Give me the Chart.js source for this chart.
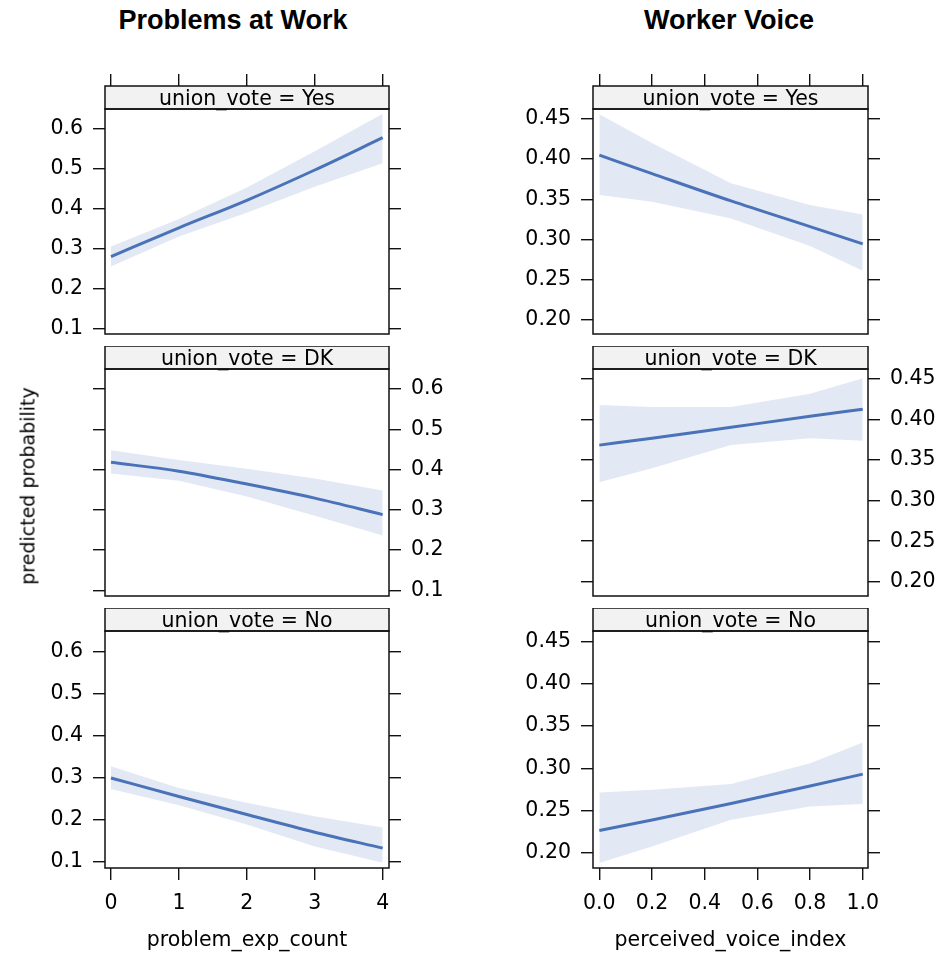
<!DOCTYPE html>
<html>
<head>
<meta charset="utf-8">
<script src="https://cdn.jsdelivr.net/npm/chart.js@4/dist/chart.umd.min.js"></script>
<style>
html,body{margin:0;padding:0;background:#fff;}
body{width:937px;height:956px;overflow:hidden;position:relative;font-family:'DejaVu Sans',sans-serif;}
canvas{position:absolute;}
.t{position:absolute;white-space:nowrap;color:#000;}
.title{font-family:'Liberation Sans',Arial,sans-serif;font-weight:bold;font-size:27px;line-height:27px;transform:translateX(-50%);top:7px;}
.xlab{font-family:'DejaVu Sans',sans-serif;font-size:20.5px;line-height:20px;transform:translateX(-50%);top:929px;}
.ylab{font-family:'DejaVu Sans',sans-serif;font-size:19px;line-height:19px;transform:translate(-50%,-50%) rotate(-90deg);}
</style>
</head>
<body>
<script>
// ---------- data ----------
const stripVar = 'union_vote';
const levels = ['Yes', 'DK', 'No'];
const titles = ['Problems at Work', 'Worker Voice'];
const xTitles = ['problem_exp_count', 'perceived_voice_index'];
const yTitle = 'predicted probability';

const workX = [0, 1, 2, 3, 4];
const workXTicks = [0, 1, 2, 3, 4];
const workYTicks = [0.1, 0.2, 0.3, 0.4, 0.5, 0.6];

const workYesFit  = [0.280, 0.352, 0.421, 0.497, 0.578];
const workYesLow  = [0.255, 0.330, 0.390, 0.455, 0.514];
const workYesHigh = [0.305, 0.374, 0.453, 0.544, 0.638];
const workDKFit   = [0.418, 0.396, 0.364, 0.329, 0.288];
const workDKLow   = [0.390, 0.372, 0.333, 0.285, 0.236];
const workDKHigh  = [0.448, 0.424, 0.402, 0.378, 0.348];
const workNoFit   = [0.300, 0.256, 0.213, 0.171, 0.133];
const workNoLow   = [0.274, 0.235, 0.189, 0.137, 0.098];
const workNoHigh  = [0.328, 0.276, 0.241, 0.209, 0.182];

const voiceX = [0, 0.2, 0.5, 0.8, 1.0];
const voiceXTicks = [0, 0.2, 0.4, 0.6, 0.8, 1.0];
const voiceYTicks = [0.20, 0.25, 0.30, 0.35, 0.40, 0.45];

const voiceYesFit  = [0.405, 0.382, 0.348, 0.316, 0.2945];
const voiceYesLow  = [0.3555, 0.347, 0.326, 0.292, 0.261];
const voiceYesHigh = [0.456, 0.420, 0.370, 0.343, 0.331];
const voiceDKFit   = [0.3685, 0.377, 0.3905, 0.404, 0.4128];
const voiceDKLow   = [0.3227, 0.340, 0.3686, 0.377, 0.374];
const voiceDKHigh  = [0.418, 0.4155, 0.4155, 0.432, 0.451];
const voiceNoFit   = [0.2267, 0.2392, 0.2587, 0.2793, 0.2933];
const voiceNoLow   = [0.1882, 0.2078, 0.2393, 0.2551, 0.258];
const voiceNoHigh  = [0.2716, 0.2748, 0.2815, 0.3063, 0.3307];

// ---------- layout / style ----------
const columns = [
  { x: workX, xTicks: workXTicks, yTicks: workYTicks, xMin: -0.088, xMax: 4.093, yMin: 0.0857, yMax: 0.650,
    xDigits: 0, yDigits: 1, L: 105, R: 389, titleX: 233, xTitleX: 247,
    fit: [workYesFit, workDKFit, workNoFit], low: [workYesLow, workDKLow, workNoLow], high: [workYesHigh, workDKHigh, workNoHigh] },
  { x: voiceX, xTicks: voiceXTicks, yTicks: voiceYTicks, xMin: -0.024, xMax: 1.020, yMin: 0.1824, yMax: 0.4624,
    xDigits: 1, yDigits: 2, L: 593, R: 868, titleX: 729, xTitleX: 730.5,
    fit: [voiceYesFit, voiceDKFit, voiceNoFit], low: [voiceYesLow, voiceDKLow, voiceNoLow], high: [voiceYesHigh, voiceDKHigh, voiceNoHigh] }
];
const rows = [{ T: 109, B: 346 }, { T: 369, B: 608 }, { T: 631, B: 868 }];
const STRIP = 23, TICK = 12;
const lineColor = '#4A72B8', bandColor = '#E3E9F4', stripFill = '#F2F2F2';
const FONT = { family: 'DejaVu Sans', size: 20.5 };

Chart.defaults.font.family = 'DejaVu Sans';
Chart.defaults.color = '#000';

const stripPlugin = {
  id: 'strip',
  afterDraw(chart, args, opts) {
    const { ctx, chartArea: a } = chart;
    ctx.save();
    ctx.fillStyle = stripFill;
    ctx.fillRect(a.left, a.top - STRIP, a.right - a.left, STRIP);
    ctx.fillStyle = '#000';
    ctx.font = '20.5px "DejaVu Sans"';
    ctx.textAlign = 'center';
    ctx.textBaseline = 'alphabetic';
    ctx.fillText(opts.text, (a.left + a.right) / 2, a.top - 4);
    ctx.strokeStyle = '#111';
    ctx.lineWidth = 1.5;
    ctx.strokeRect(a.left, a.top - STRIP, a.right - a.left, STRIP);
    ctx.strokeRect(a.left, a.top, a.right - a.left, a.bottom - a.top);
    ctx.restore();
  }
};

function fixSize(size, horiz) {
  return (s) => {
    if (horiz) s.height = size; else s.width = size;
    s.paddingTop = s.paddingBottom = s.paddingLeft = s.paddingRight = 0;
  };
}
function setTicks(vals) {
  return (s) => { s.ticks = vals.map(v => ({ value: v })); };
}

function makePanel(ci, ri) {
  const col = columns[ci], row = rows[ri];
  const topM = ri === 0 ? STRIP + TICK : STRIP;
  const botM = ri === 2 ? 60 : 12;
  const leftM = 80, rightM = 69;
  const w = (col.R - col.L) + leftM + rightM;
  const h = (row.B - row.T) + topM + botM;
  const cv = document.createElement('canvas');
  cv.width = w; cv.height = h;
  cv.style.left = (col.L - leftM) + 'px';
  cv.style.top = (row.T - topM) + 'px';
  cv.style.width = w + 'px'; cv.style.height = h + 'px';
  document.body.appendChild(cv);

  const labelsLeft = ri !== 1;
  const pts = (ys) => col.x.map((x, i) => ({ x: x, y: ys[i] }));
  const grid = (len, draw) => ({ drawOnChartArea: false, drawTicks: draw, tickLength: len, color: '#111', tickColor: '#111', lineWidth: 1.4 });

  const yAxis = (pos, labels) => ({
    type: 'linear', position: pos, min: col.yMin, max: col.yMax,
    afterBuildTicks: setTicks(col.yTicks), afterFit: fixSize(pos === 'left' ? leftM : rightM, false),
    grid: grid(TICK, true), border: { display: false },
    ticks: { display: labels, padding: 10, font: FONT, color: '#000', callback: (v) => Number(v).toFixed(col.yDigits) }
  });

  const scales = {
    x: {
      type: 'linear', position: 'bottom', min: col.xMin, max: col.xMax, display: ri === 2,
      afterBuildTicks: setTicks(col.xTicks), afterFit: fixSize(botM, true),
      grid: grid(TICK, true), border: { display: false },
      ticks: { display: true, padding: 11, font: FONT, color: '#000', maxRotation: 0, callback: (v) => Number(v).toFixed(col.xDigits) }
    },
    y: yAxis('left', labelsLeft),
    y2: yAxis('right', !labelsLeft)
  };
  if (ri === 0) {
    scales.xTop = {
      type: 'linear', position: 'top', min: col.xMin, max: col.xMax,
      afterBuildTicks: setTicks(col.xTicks), afterFit: fixSize(topM, true),
      grid: grid(topM, true), border: { display: false },
      ticks: { display: false }
    };
  }

  new Chart(cv, {
    type: 'line',
    data: {
      datasets: [
        { data: pts(col.fit[ri]), order: 0, borderWidth: 3, pointRadius: 0, fill: false, borderColor: lineColor, cubicInterpolationMode: 'monotone' },
        { data: pts(col.low[ri]), order: 1, borderWidth: 0, pointRadius: 0, fill: false, backgroundColor: bandColor, borderColor: 'rgba(0,0,0,0)' },
        { data: pts(col.high[ri]), order: 2, borderWidth: 0, pointRadius: 0, fill: 1, backgroundColor: bandColor, borderColor: 'rgba(0,0,0,0)' }
      ]
    },
    options: {
      responsive: false, animation: false, devicePixelRatio: 1,
      layout: { padding: { top: ri === 0 ? 0 : topM, bottom: ri === 2 ? 0 : botM, left: 0, right: 0 } },
      plugins: { legend: { display: false }, tooltip: { enabled: false }, strip: { text: stripVar + ' = ' + levels[ri] } },
      scales: scales
    },
    plugins: [stripPlugin]
  });
}

for (let c = 0; c < 2; c++) for (let r = 0; r < 3; r++) makePanel(c, r);

function addText(cls, txt, styles) {
  const d = document.createElement('div');
  d.className = 't ' + cls;
  d.textContent = txt;
  Object.assign(d.style, styles);
  document.body.appendChild(d);
}
columns.forEach((col, i) => {
  addText('title', titles[i], { left: col.titleX + 'px' });
  addText('xlab', xTitles[i], { left: col.xTitleX + 'px' });
});
addText('ylab', yTitle, { left: '28px', top: '486px' });
</script>
</body>
</html>
